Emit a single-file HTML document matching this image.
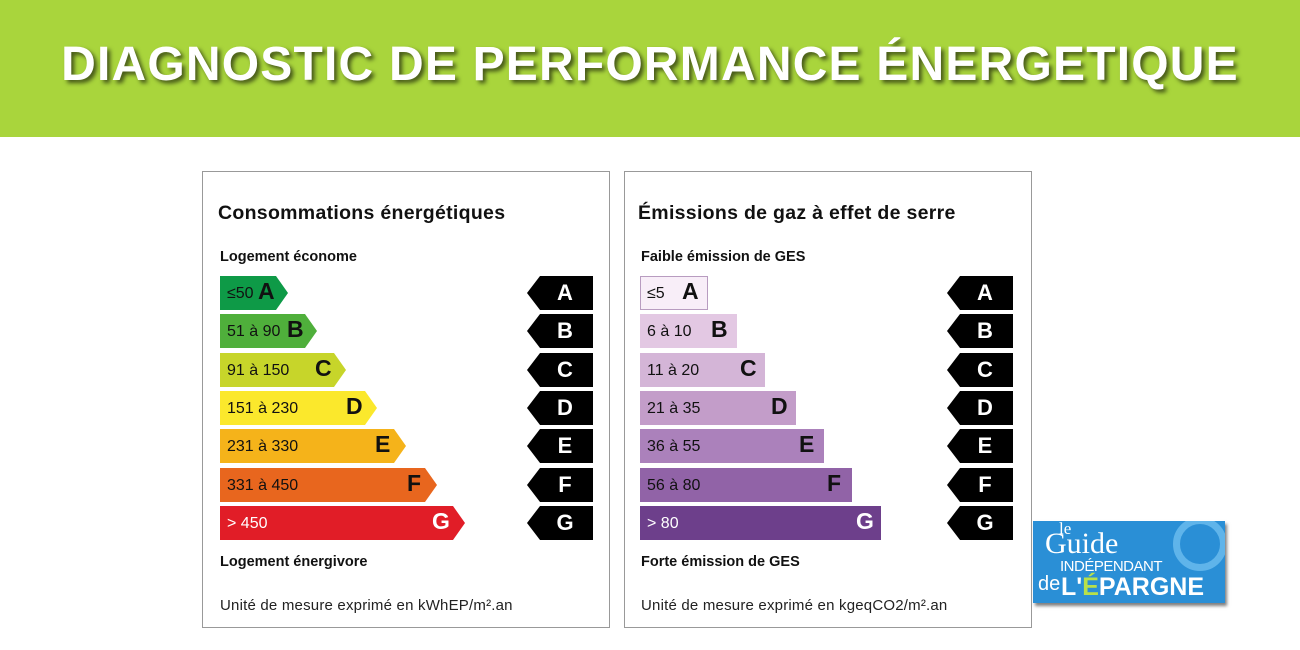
<!DOCTYPE html>
<html><head><meta charset="utf-8"><style>
body{margin:0;width:1300px;height:650px;background:#fff;font-family:"Liberation Sans",Arial,sans-serif;position:relative;overflow:hidden}
.hdr{position:absolute;left:0;top:0;width:1300px;height:137px;background:#a9d53c}
.hdr div{position:absolute;left:0;width:1300px;top:37px;text-align:center;color:#fff;font-weight:bold;font-size:48px;letter-spacing:1.2px;text-shadow:3px 3px 4px rgba(0,0,0,.6)}
.panel{position:absolute;top:171px;width:408px;height:457px;border:1px solid #999;box-sizing:border-box}
.t{position:absolute;font-weight:bold;color:#111}
.bar{position:absolute;height:34px;font-size:16px;color:#111}
.bar span.l{position:absolute;left:7px;top:9px}
.bar b{position:absolute;top:2px;font-size:23px}
.blk{position:absolute;width:66px;height:34px;background:#000;clip-path:polygon(13px 0,66px 0,66px 34px,13px 34px,0 17px);color:#fff;font-weight:bold;font-size:22px;text-align:center;line-height:34px;text-indent:10px}
</style></head><body>
<div class="hdr"><div>DIAGNOSTIC DE PERFORMANCE ÉNERGETIQUE</div></div>

<div class="panel" style="left:202px"></div>
<div class="panel" style="left:624px"></div>

<div class="t" style="left:218px;top:202px;font-size:19.5px;letter-spacing:0.3px">Consommations énergétiques</div>
<div class="t" style="left:220px;top:249px;font-size:14.5px">Logement économe</div>
<div class="t" style="left:220px;top:554px;font-size:14.5px">Logement énergivore</div>
<div style="position:absolute;left:220px;top:597px;font-size:15px;letter-spacing:0.2px;color:#222">Unité de mesure exprimé en kWhEP/m².an</div>

<div class="t" style="left:638px;top:202px;font-size:19.5px;letter-spacing:0.3px">Émissions de gaz à effet de serre</div>
<div class="t" style="left:641px;top:249px;font-size:14.5px">Faible émission de GES</div>
<div class="t" style="left:641px;top:554px;font-size:14.5px">Forte émission de GES</div>
<div style="position:absolute;left:641px;top:597px;font-size:15px;letter-spacing:0.2px;color:#222">Unité de mesure exprimé en kgeqCO2/m².an</div>

<div class="bar" style="left:220px;top:276px;width:68px;background:#0e9a47;clip-path:polygon(0 0,56px 0,68px 17px,56px 34px,0 34px)"><span class="l">≤50</span><b style="left:38px">A</b></div>
<div class="bar" style="left:220px;top:314px;width:97px;background:#4faf3b;clip-path:polygon(0 0,85px 0,97px 17px,85px 34px,0 34px)"><span class="l">51 à 90</span><b style="left:67px">B</b></div>
<div class="bar" style="left:220px;top:353px;width:126px;background:#c7d52a;clip-path:polygon(0 0,114px 0,126px 17px,114px 34px,0 34px)"><span class="l">91 à 150</span><b style="left:95px">C</b></div>
<div class="bar" style="left:220px;top:391px;width:157px;background:#fbe82c;clip-path:polygon(0 0,145px 0,157px 17px,145px 34px,0 34px)"><span class="l">151 à 230</span><b style="left:126px">D</b></div>
<div class="bar" style="left:220px;top:429px;width:186px;background:#f5b31a;clip-path:polygon(0 0,174px 0,186px 17px,174px 34px,0 34px)"><span class="l">231 à 330</span><b style="left:155px">E</b></div>
<div class="bar" style="left:220px;top:468px;width:217px;background:#e8661e;clip-path:polygon(0 0,205px 0,217px 17px,205px 34px,0 34px)"><span class="l">331 à 450</span><b style="left:187px">F</b></div>
<div class="bar" style="left:220px;top:506px;width:245px;background:#e11d27;clip-path:polygon(0 0,233px 0,245px 17px,233px 34px,0 34px);color:#fff"><span class="l">&gt; 450</span><b style="left:212px">G</b></div>

<div class="bar" style="left:640px;top:276px;width:68px;background:#f8eef8;box-shadow:inset 0 0 0 1px #b89cc0"><span class="l">≤5</span><b style="left:42px">A</b></div>
<div class="bar" style="left:640px;top:314px;width:97px;background:#e3c8e3"><span class="l">6 à 10</span><b style="left:71px">B</b></div>
<div class="bar" style="left:640px;top:353px;width:125px;background:#d4b5d7"><span class="l">11 à 20</span><b style="left:100px">C</b></div>
<div class="bar" style="left:640px;top:391px;width:156px;background:#c39dc9"><span class="l">21 à 35</span><b style="left:131px">D</b></div>
<div class="bar" style="left:640px;top:429px;width:184px;background:#ab81bb"><span class="l">36 à 55</span><b style="left:159px">E</b></div>
<div class="bar" style="left:640px;top:468px;width:212px;background:#9163a7"><span class="l">56 à 80</span><b style="left:187px">F</b></div>
<div class="bar" style="left:640px;top:506px;width:241px;background:#6d3f8b;color:#fff"><span class="l">&gt; 80</span><b style="left:216px">G</b></div>

<div class="blk" style="left:527px;top:276px">A</div>
<div class="blk" style="left:527px;top:314px">B</div>
<div class="blk" style="left:527px;top:353px">C</div>
<div class="blk" style="left:527px;top:391px">D</div>
<div class="blk" style="left:527px;top:429px">E</div>
<div class="blk" style="left:527px;top:468px">F</div>
<div class="blk" style="left:527px;top:506px">G</div>
<div class="blk" style="left:947px;top:276px">A</div>
<div class="blk" style="left:947px;top:314px">B</div>
<div class="blk" style="left:947px;top:353px">C</div>
<div class="blk" style="left:947px;top:391px">D</div>
<div class="blk" style="left:947px;top:429px">E</div>
<div class="blk" style="left:947px;top:468px">F</div>
<div class="blk" style="left:947px;top:506px">G</div>

<div style="position:absolute;left:1033px;top:521px;width:192px;height:82px;background:#2a8fd6;box-shadow:2px 3px 3px rgba(0,0,0,.5);overflow:hidden;color:#fff">
<div style="position:absolute;left:140px;top:-4px;width:40px;height:40px;border:7px solid #5fb4ea;border-radius:50%"></div>
<div style="position:absolute;left:26px;top:-2px;font-family:'Liberation Serif',serif;font-size:17px">le</div>
<div style="position:absolute;left:12px;top:8px;font-family:'Liberation Serif',serif;font-size:30px;line-height:30px">Guide</div>
<div style="position:absolute;left:27px;top:38px;font-size:15px;line-height:16px;letter-spacing:-0.5px">INDÉPENDANT</div>
<div style="position:absolute;left:5px;top:52px;font-size:20px;line-height:22px">de</div>
<div style="position:absolute;left:28px;top:52px;font-size:25px;font-weight:bold;line-height:28px">L'<span style="color:#b8e04a">É</span>PARGNE</div>
</div>
</body></html>
